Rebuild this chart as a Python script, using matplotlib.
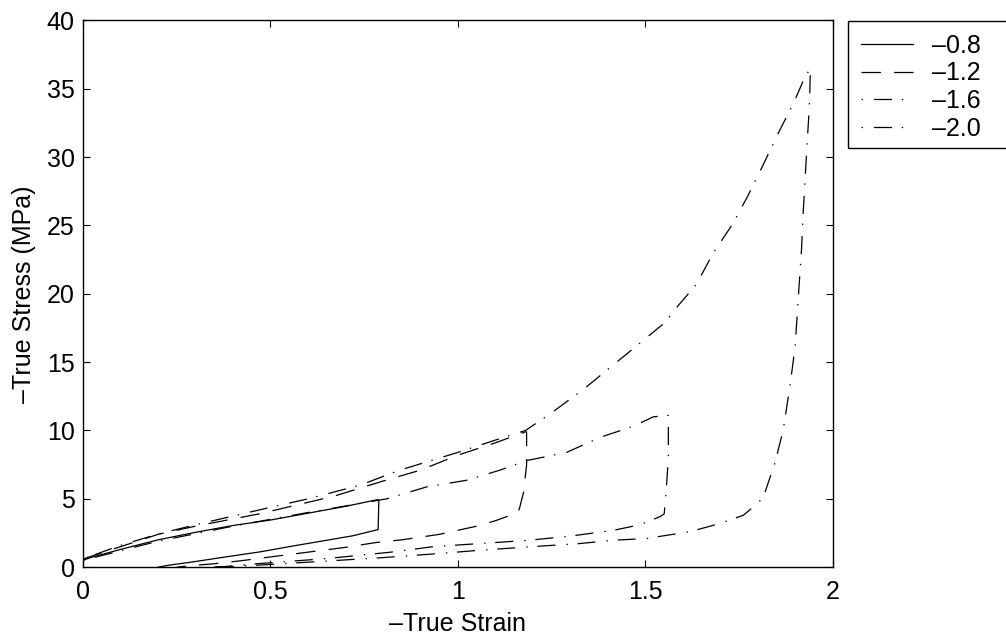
import matplotlib
matplotlib.use("Agg")
import matplotlib.pyplot as plt
from matplotlib.patches import Rectangle

# ---- data (strain, stress) --------------------------------------------------
labels = ["\u20130.8", "\u20131.2", "\u20131.6", "\u20132.0"]

strain_08 = [0.0, 0.02, 0.1, 0.2, 0.3, 0.4, 0.5, 0.6, 0.7, 0.787,
             0.789, 0.787, 0.72, 0.65, 0.56, 0.472, 0.38, 0.294, 0.23, 0.2]
stress_08 = [0.5, 0.7, 1.3, 2.0, 2.55, 3.05, 3.45, 3.95, 4.45, 4.95,
             4.9, 2.75, 2.3, 1.97, 1.55, 1.12, 0.75, 0.39, 0.15, 0.0]

strain_12 = [0.0, 0.1, 0.2, 0.3, 0.47, 0.67, 0.8, 0.9, 1.0, 1.1, 1.18,
             1.183, 1.183, 1.175, 1.165, 1.16, 1.1, 1.05, 0.95, 0.85, 0.78,
             0.7, 0.6, 0.5, 0.43, 0.35, 0.29, 0.25]
stress_12 = [0.6, 1.5, 2.4, 3.0, 3.9, 5.2, 6.3, 7.1, 8.2, 9.1, 9.9,
             9.9, 7.5, 5.5, 4.4, 4.0, 3.4, 3.0, 2.4, 2.0, 1.8,
             1.45, 1.1, 0.75, 0.5, 0.25, 0.12, 0.0]

strain_16 = [0.0, 0.1, 0.2, 0.4, 0.6, 0.81, 0.916, 1.023, 1.112, 1.183,
             1.219, 1.29, 1.379, 1.467, 1.521, 1.557,
             1.561, 1.561, 1.555, 1.55, 1.539, 1.485, 1.415, 1.307, 1.19,
             1.059, 0.933, 0.828, 0.65, 0.472, 0.38, 0.33]
stress_16 = [0.5, 1.2, 1.9, 3.0, 4.0, 5.0, 5.87, 6.36, 7.1, 7.8,
             8.0, 8.4, 9.5, 10.3, 11.0, 11.1,
             11.1, 8.0, 5.5, 3.9, 3.7, 3.1, 2.7, 2.3, 1.97,
             1.73, 1.5, 1.12, 0.63, 0.27, 0.05, 0.0]

strain_20 = [0.0, 0.1, 0.205, 0.3, 0.472, 0.6, 0.739, 0.845, 1.0, 1.1,
             1.18, 1.25, 1.334, 1.45, 1.552, 1.583, 1.636, 1.681, 1.73,
             1.77, 1.815, 1.855, 1.894, 1.925, 1.94,
             1.937, 1.93, 1.921, 1.916, 1.907, 1.899, 1.885, 1.867, 1.845,
             1.814, 1.796, 1.761, 1.699, 1.619, 1.503, 1.414, 1.325, 1.192,
             1.059, 0.95, 0.8, 0.65, 0.5, 0.4, 0.35]
stress_20 = [0.6, 1.6, 2.46, 3.1, 4.2, 5.0, 6.0, 7.1, 8.4, 9.3,
             10.0, 11.3, 13.0, 15.6, 17.9, 19.0, 20.7, 23.0, 25.0,
             27.0, 29.5, 31.8, 33.9, 35.85, 36.5,
             33.7, 30.5, 26.1, 23.2, 19.5, 16.1, 13.2, 10.0, 7.6,
             5.1, 4.6, 3.8, 3.2, 2.6, 2.1, 1.97, 1.73, 1.49,
             1.24, 1.0, 0.7, 0.45, 0.2, 0.05, 0.0]

# ---- style ------------------------------------------------------------------
plt.rcParams["font.family"] = ["Liberation Sans", "DejaVu Sans"]
plt.rcParams["lines.scale_dashes"] = False
FS = 18

DASH = (0, (14, 9.5))
DASHDOT = (0, (1, 8, 13, 7))

fig = plt.figure(figsize=(10.06, 6.38), dpi=100)
ax = fig.add_axes([0.0825, 0.111, 0.7455, 0.857])

lw = 0.9
ax.plot(strain_08, stress_08, color="black", lw=lw, ls="-", label=labels[0])
ax.plot(strain_12, stress_12, color="black", lw=lw, ls=DASH, label=labels[1])
ax.plot(strain_16, stress_16, color="black", lw=lw, ls=DASHDOT, label=labels[2])
ax.plot(strain_20, stress_20, color="black", lw=lw, ls=DASHDOT, label=labels[3])

ax.set_xlim(0, 2)
ax.set_ylim(0, 40)
ax.set_xticks([0, 0.5, 1, 1.5, 2])
ax.set_xticklabels(["0", "0.5", "1", "1.5", "2"])
ax.set_yticks(range(0, 41, 5))
ax.tick_params(direction="in", top=True, right=True, length=5, width=0.8,
               labelsize=FS)
ax.tick_params(axis="x", pad=9)
ax.tick_params(axis="y", pad=6)
for s in ax.spines.values():
    s.set_linewidth(1.0)

ax.set_xlabel("\u2013True Strain", fontsize=FS, labelpad=6)
ax.set_ylabel("\u2013True Stress (MPa)", fontsize=FS, labelpad=8)

# legend sits outside the axes; its box runs off the right edge of the figure
leg = fig.legend(loc="upper left", bbox_to_anchor=(0.843, 0.967),
                 fontsize=FS, frameon=False, handlelength=2.1,
                 handletextpad=0.75, labelspacing=0.15, borderpad=0.5,
                 borderaxespad=0)
fig.patches.append(Rectangle((0.843, 1 - 148 / 638), 0.2, (148 - 21) / 638,
                             transform=fig.transFigure, fill=False,
                             ec="black", lw=1.0, clip_on=False))

fig.savefig("out.png", dpi=100, facecolor="white")
